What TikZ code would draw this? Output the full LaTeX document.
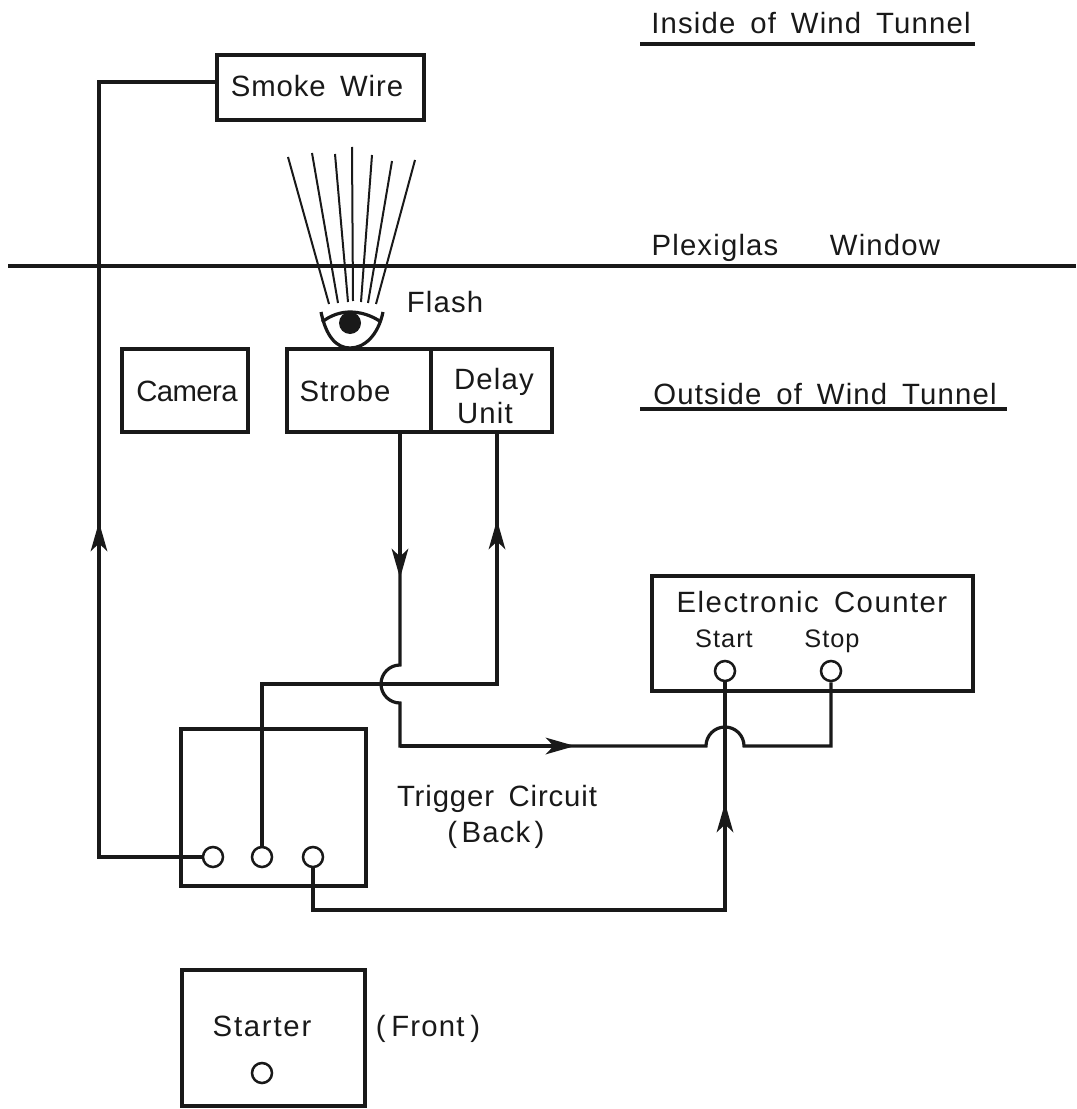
\documentclass[tikz,border=0pt]{standalone}
\usepackage{fontspec}
\setmainfont{Liberation Sans}[LetterSpace=4,WordSpace=1.6]
\usetikzlibrary{arrows.meta}
\begin{document}
\begin{tikzpicture}[x=0.75pt,y=-0.75pt,
    wire/.style={line width=2.4pt,black!90},
    box/.style={draw,line width=2.4pt,black!90},
    port/.style={circle,draw,line width=1.9pt,black!90,fill=white,minimum size=15pt,inner sep=0},
    ray/.style={line width=1.5pt,black!90},
    lbl/.style={font=\fontsize{22}{26}\selectfont,text=black!90,inner sep=0,anchor=base},
    small/.style={font=\fontsize{19}{22}\selectfont,text=black!90,inner sep=0,anchor=base},
    >={Stealth[length=22pt,width=12.5pt,inset=6pt]}]
  \useasboundingbox (0,0) rectangle (1076,1109);
  % boxes
  \draw[box] (217,55) rectangle (424,120);
  \draw[box] (122,349) rectangle (248,432);
  \draw[box] (287,349) rectangle (552,432);
  \draw[box] (652,576) rectangle (973,691);
  \draw[box] (181,729) rectangle (366,886);
  \draw[box] (182,970) rectangle (365,1106);
  \draw[wire] (431,349) -- (431,432);
  % window and underlines
  \draw[wire] (8,266) -- (1076,266);
  \draw[wire] (640,44) -- (975,44);
  \draw[wire] (640,409) -- (1007,409);
  % labels
  \node[lbl] (smoke) at (317,97) {\addfontfeature{LetterSpace=3}Smoke Wire};
  \node[lbl] (inside) at (811,34) {Inside of Wind Tunnel};
  \node[lbl] (plexi) at (715,255) {Plexiglas};
  \node[lbl] (window) at (885,255) {Window};
  \node[lbl] (flash) at (445,312) {Flash};
  \node[lbl] (camera) at (187,401) {\addfontfeature{LetterSpace=-2}Camera};
  \node[lbl] (strobe) at (345,401) {\addfontfeature{LetterSpace=3}Strobe};
  \node[lbl] (delay) at (494,389) {Delay};
  \node[lbl] (unit) at (485,423) {Unit};
  \node[lbl] (outside) at (825,404) {Outside of Wind Tunnel};
  \node[lbl] (counter) at (812,612) {\addfontfeature{LetterSpace=5}Electronic Counter};
  \node[small] (start) at (724,647) {Start};
  \node[small] (stop) at (832,647) {Stop};
  \node[lbl] (trigger) at (497,806) {\addfontfeature{LetterSpace=3}Trigger Circuit};
  \node[lbl] (back) at (496,842) {{\spaceskip=.15em ( Back )}};
  \node[lbl] (starter) at (262,1036) {\addfontfeature{LetterSpace=6}Starter};
  \node[lbl] (front) at (428,1036) {{\spaceskip=.2em ( Front )}};
  % ports
  \foreach \name/\x/\y in {tone/213/857, ttwo/262/857, tthree/313/857,
      pstart/725/671, pstop/831/671, pstarter/262/1073}
    \node[port] (\name) at (\x,\y) {};
  % flash rays
  \foreach \xa/\ya/\xb/\yb in {288/157/329/304, 312/153/338/303, 335/154/348/302,
      352/147/353/301, 372/155/361/302, 392/161/368/303, 415/160/376/304}
    \draw[ray] (\xa,\ya) -- (\xb,\yb);
  % flash lamp
  \draw[wire] (321,312) .. controls (326,336) and (336,348) .. (350,348)
    .. controls (364,348) and (378,336) .. (383,312);
  \draw[wire] (322,322) .. controls (331,315) and (341,312) .. (350,312)
    .. controls (360,312) and (371,315) .. (381,322);
  \fill[black!90] (350,323) circle (11);
  % smoke wire line
  \coordinate (smokeend) at (217,82);
  \coordinate (smokecorner) at (99,82);
  \coordinate (smokemid) at (99,522);
  \coordinate (smokelow) at (99,857);
  \draw[wire] (tone.west) -- (smokelow) -- (smokecorner) -- (smokeend);
  \draw[wire,->] (smokelow) -- (smokemid);
  % strobe line with jumps
  \coordinate (strobeend) at (400,432);
  \coordinate (strobemid) at (400,578);
  \coordinate (jumpa) at (400,665);
  \coordinate (corner) at (400,746);
  \coordinate (hmid) at (575,746);
  \coordinate (jumpc) at (706,746);
  \coordinate (stopcorner) at (831,746);
  \draw[wire] (strobeend) -- (jumpa) arc[start angle=-90,end angle=-270,radius=19] -- (corner)
    -- (jumpc) arc[start angle=180,end angle=360,radius=19] -- (stopcorner) -- (pstop.south);
  \draw[wire,->] (strobeend) -- (strobemid);
  \draw[wire,->] (corner) -- (hmid);
  % delay line
  \coordinate (delayend) at (497,432);
  \coordinate (delaymid) at (497,520);
  \coordinate (delaycorner) at (497,684);
  \coordinate (trigcorner) at (262,684);
  \draw[wire] (delayend) -- (delaycorner) -- (trigcorner) -- (ttwo.north);
  \draw[wire,->] (delaycorner) -- (delaymid);
  % start line
  \coordinate (startcorner) at (725,910);
  \coordinate (startmid) at (725,803);
  \coordinate (lowcorner) at (313,910);
  \draw[wire] (tthree.south) -- (lowcorner) -- (startcorner) -- (pstart.south);
  \draw[wire,->] (startcorner) -- (startmid);
\end{tikzpicture}
\end{document}
